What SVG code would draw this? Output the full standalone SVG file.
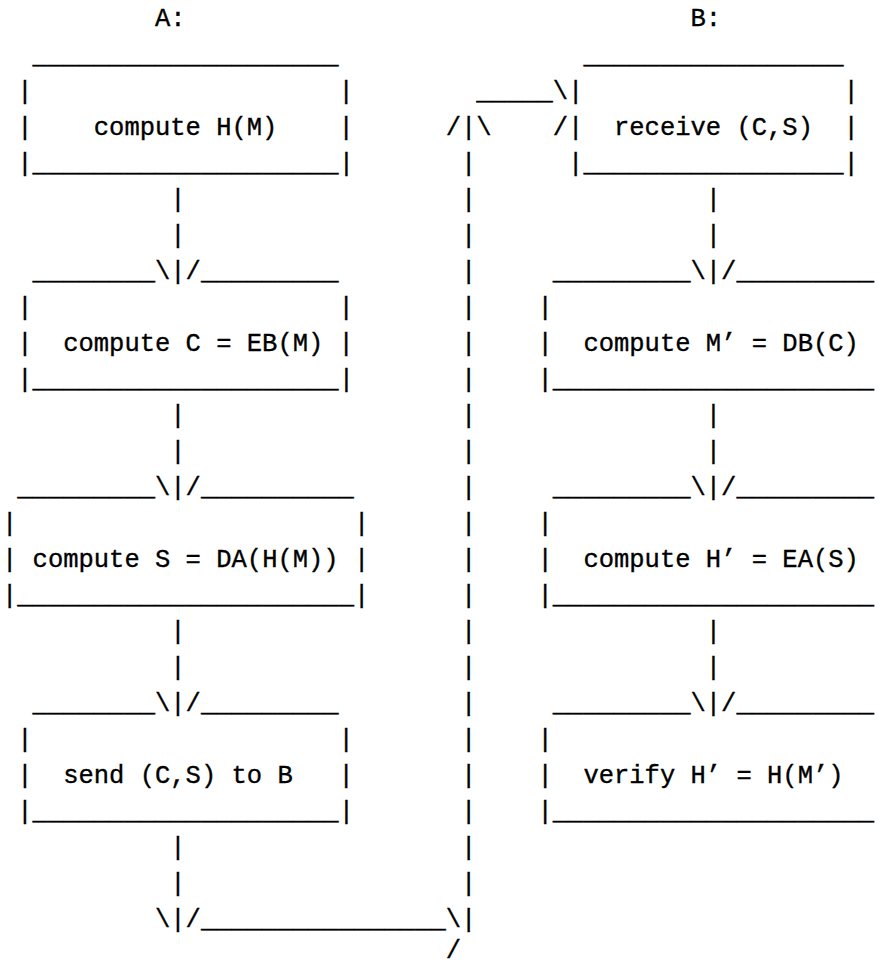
<svg xmlns="http://www.w3.org/2000/svg" width="878" height="967" viewBox="0 0 878 967" xml:space="preserve">
<style>
text { font-family: "Liberation Mono", "DejaVu Sans Mono", monospace; font-size: 25.5px; fill: #000; stroke: #000; stroke-width: 0.35px; white-space: pre; }
</style>
<rect width="878" height="967" fill="#fff"/>
<g id="label-A"><text x="155" y="26">A:</text></g>
<g id="label-B"><text x="690.5" y="26">B:</text></g>

<g id="A1">
<text x="32.6" y="63">____________________</text>
<text x="17.3" y="99">|</text><text x="338.6" y="99">|</text>
<text x="17.3" y="135">|</text><text x="93.8" y="135">compute H(M)</text><text x="338.6" y="135">|</text>
<text x="17.3" y="171">|____________________|</text>
</g>
<g id="A2">
<text x="32.6" y="279">________</text><text x="200.9" y="279">_________</text>
<text x="17.3" y="315">|</text><text x="338.6" y="315">|</text>
<text x="17.3" y="351">|</text><text x="63.2" y="351">compute C = EB(M)</text><text x="338.6" y="351">|</text>
<text x="17.3" y="387">|____________________|</text>
</g>
<g id="A3">
<text x="17.3" y="495">_________</text><text x="200.9" y="495">__________</text>
<text x="2" y="531">|</text><text x="353.9" y="531">|</text>
<text x="2" y="567">|</text><text x="32.6" y="567">compute S = DA(H(M))</text><text x="353.9" y="567">|</text>
<text x="2" y="603">|______________________|</text>
</g>
<g id="A4">
<text x="32.6" y="711">________</text><text x="200.9" y="711">_________</text>
<text x="17.3" y="747">|</text><text x="338.6" y="747">|</text>
<text x="17.3" y="783">|</text><text x="63.2" y="783">send (C,S) to B</text><text x="338.6" y="783">|</text>
<text x="17.3" y="819">|____________________|</text>
</g>

<g id="B1">
<text x="583.4" y="63">_________________</text>
<text x="568.1" y="99">|</text><text x="843.5" y="99">|</text>
<text x="568.1" y="135">|</text><text x="614" y="135">receive (C,S)</text><text x="843.5" y="135">|</text>
<text x="568.1" y="171">|_________________|</text>
</g>
<g id="B2">
<text x="552.8" y="279">_________</text><text x="736.4" y="279">_________</text>
<text x="537.5" y="315">|</text>
<text x="537.5" y="351">|</text><text x="583.4" y="351">compute M’ = DB(C)</text>
<text x="537.5" y="387">|_____________________</text>
</g>
<g id="B3">
<text x="552.8" y="495">_________</text><text x="736.4" y="495">_________</text>
<text x="537.5" y="531">|</text>
<text x="537.5" y="567">|</text><text x="583.4" y="567">compute H’ = EA(S)</text>
<text x="537.5" y="603">|_____________________</text>
</g>
<g id="B4">
<text x="552.8" y="711">_________</text><text x="736.4" y="711">_________</text>
<text x="537.5" y="747">|</text>
<text x="537.5" y="783">|</text><text x="583.4" y="783">verify H’ = H(M’)</text>
<text x="537.5" y="819">|_____________________</text>
</g>

<g id="connectors">
<text x="170.3" y="207">|</text><text x="170.3" y="243">|</text><text x="155" y="279">\|/</text>
<text x="170.3" y="423">|</text><text x="170.3" y="459">|</text><text x="155" y="495">\|/</text>
<text x="170.3" y="639">|</text><text x="170.3" y="675">|</text><text x="155" y="711">\|/</text>
<text x="170.3" y="855">|</text><text x="170.3" y="891">|</text><text x="155" y="927">\|/________________\|</text>
<text x="445.7" y="958">/</text>
<text x="445.7" y="135">/|\</text>
<text x="461" y="171">|</text><text x="461" y="207">|</text><text x="461" y="243">|</text><text x="461" y="279">|</text>
<text x="461" y="315">|</text><text x="461" y="351">|</text><text x="461" y="387">|</text><text x="461" y="423">|</text>
<text x="461" y="459">|</text><text x="461" y="495">|</text><text x="461" y="531">|</text><text x="461" y="567">|</text>
<text x="461" y="603">|</text><text x="461" y="639">|</text><text x="461" y="675">|</text><text x="461" y="711">|</text>
<text x="461" y="747">|</text><text x="461" y="783">|</text><text x="461" y="819">|</text><text x="461" y="855">|</text>
<text x="461" y="891">|</text>
<text x="476.3" y="99">_____\</text>
<text x="552.8" y="135">/</text>
<text x="705.8" y="207">|</text><text x="705.8" y="243">|</text><text x="690.5" y="279">\|/</text>
<text x="705.8" y="423">|</text><text x="705.8" y="459">|</text><text x="690.5" y="495">\|/</text>
<text x="705.8" y="639">|</text><text x="705.8" y="675">|</text><text x="690.5" y="711">\|/</text>
</g>
</svg>
